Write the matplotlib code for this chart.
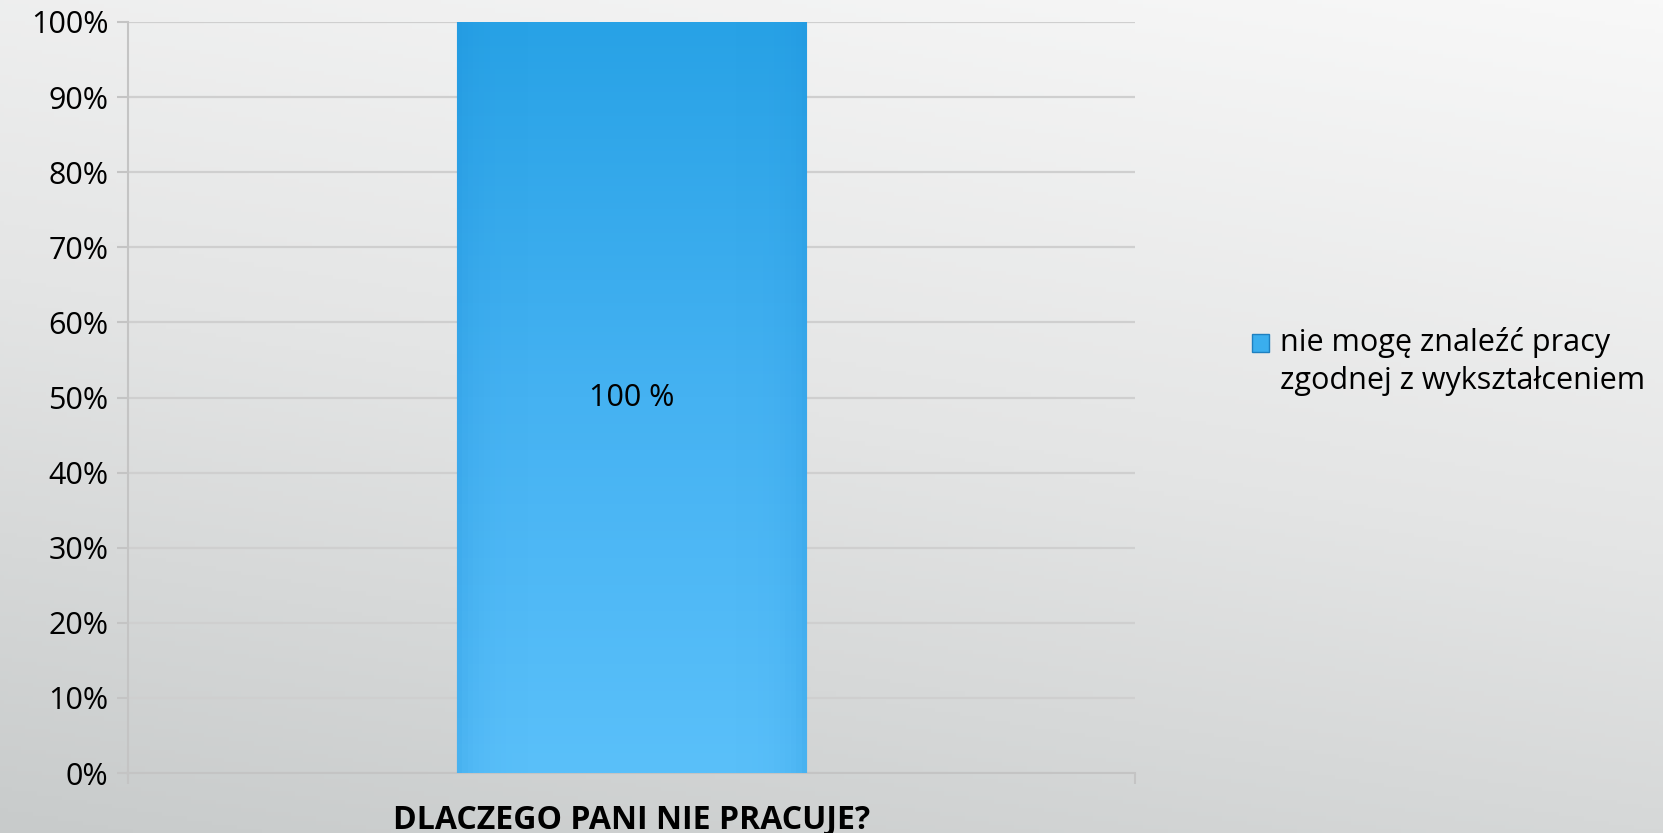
import numpy as np
import matplotlib.pyplot as plt
from matplotlib.colors import LinearSegmentedColormap
from matplotlib.patches import Patch

categories = ["DLACZEGO PANI NIE PRACUJE?"]
values = [1.0]
bar_labels = ["100 %"]
series_name = "nie mogę znaleźć pracy\nzgodnej z wykształceniem"
yticks = np.arange(0, 1.01, 0.1)
ytick_labels = [f"{int(round(t * 100))}%" for t in yticks]

plt.rcParams['font.family'] = ['Open Sans', 'DejaVu Sans']

fig = plt.figure(figsize=(16.63, 8.33), dpi=100)

# background gradient (light top-right, grey bottom-left)
bg = fig.add_axes([0, 0, 1, 1], zorder=-10)
yy, xx = np.mgrid[0:1:200j, 0:1:400j]
t = np.clip(0.75 * (1 - yy) + 0.25 * (1 - xx), 0, 1)
bg_cmap = LinearSegmentedColormap.from_list("bg", ["#f8f8f8", "#e4e5e5", "#c8cbcb"])
bg.imshow(t, cmap=bg_cmap, aspect="auto", extent=[0, 1, 0, 1], vmin=0, vmax=1,
          origin="lower")
bg.axis("off")

ax = fig.add_axes([0.077, 0.072, 0.6055, 0.9016])
ax.patch.set_alpha(0)

x = np.arange(len(categories))
bars = ax.bar(x, values, width=0.3466, color="#3aaeee", zorder=3,
              edgecolor="#2a96d6", linewidth=0.8)

# vertical gradient inside the bar
bar_cmap = LinearSegmentedColormap.from_list("bar", ["#5ac0fa", "#45b2f2", "#28a2e6"])
for b in bars:
    x0, w, h = b.get_x(), b.get_width(), b.get_height()
    grad = np.linspace(0, 1, 256).reshape(-1, 1)
    side = np.linspace(-1, 1, 64)
    shade = np.abs(side) ** 8
    img = ax.imshow(grad * np.ones((1, 64)), cmap=bar_cmap, origin="lower",
                    extent=[x0, x0 + w, 0, h], aspect="auto", zorder=3.5,
                    vmin=0, vmax=1)
    img.set_clip_path(b)
    edge = ax.imshow(np.tile(shade, (4, 1)), cmap=LinearSegmentedColormap.from_list(
        "e", [(0.1, 0.55, 0.85, 0.0), (0.1, 0.55, 0.85, 1.0)]), origin="lower",
        extent=[x0, x0 + w, 0, h], aspect="auto", zorder=3.6, vmin=0, vmax=4)
    edge.set_clip_path(b)

for b, lab in zip(bars, bar_labels):
    ax.text(b.get_x() + b.get_width() / 2, b.get_height() / 2, lab,
            ha="center", va="center", fontsize=22, color="black", zorder=5)

ax.set_xlim(-0.5, 0.5)
ax.set_ylim(0, 1)
ax.set_yticks(yticks)
ax.set_yticklabels(ytick_labels, fontsize=22)
ax.set_xticks([-0.5, 0.5])
ax.set_xticklabels([])
ax.tick_params(axis="y", direction="out", length=8, width=1.5, color="#c4c4c4", pad=6)
ax.tick_params(axis="x", direction="out", length=8, width=1.5, color="#c4c4c4")
ax.grid(axis="y", color="#cfcfcf", linewidth=1.6, zorder=0)

for s in ["top", "right"]:
    ax.spines[s].set_visible(False)
ax.spines["left"].set_color("#c4c4c4")
ax.spines["left"].set_linewidth(1.5)
ax.spines["bottom"].set_color("#c4c4c4")
ax.spines["bottom"].set_linewidth(1.5)

ax.set_xlabel(categories[0], fontsize=23, fontweight="bold", labelpad=10)

handle = Patch(facecolor="#3aaeee", edgecolor="#1e80c0", linewidth=1)
leg = fig.legend([handle], [series_name], loc="center left", bbox_to_anchor=(0.753, 0.566),
                 frameon=False, fontsize=22, handlelength=0.55, handleheight=0.55,
                 handletextpad=0.35, borderaxespad=0, borderpad=0)
for txt in leg.get_texts():
    txt.set_linespacing(1.35)
# line the marker up with the first line of text
mk = leg.get_patches()[0]
mk.set_y(mk.get_y() + 14)

fig.savefig("out.png", dpi=100)
